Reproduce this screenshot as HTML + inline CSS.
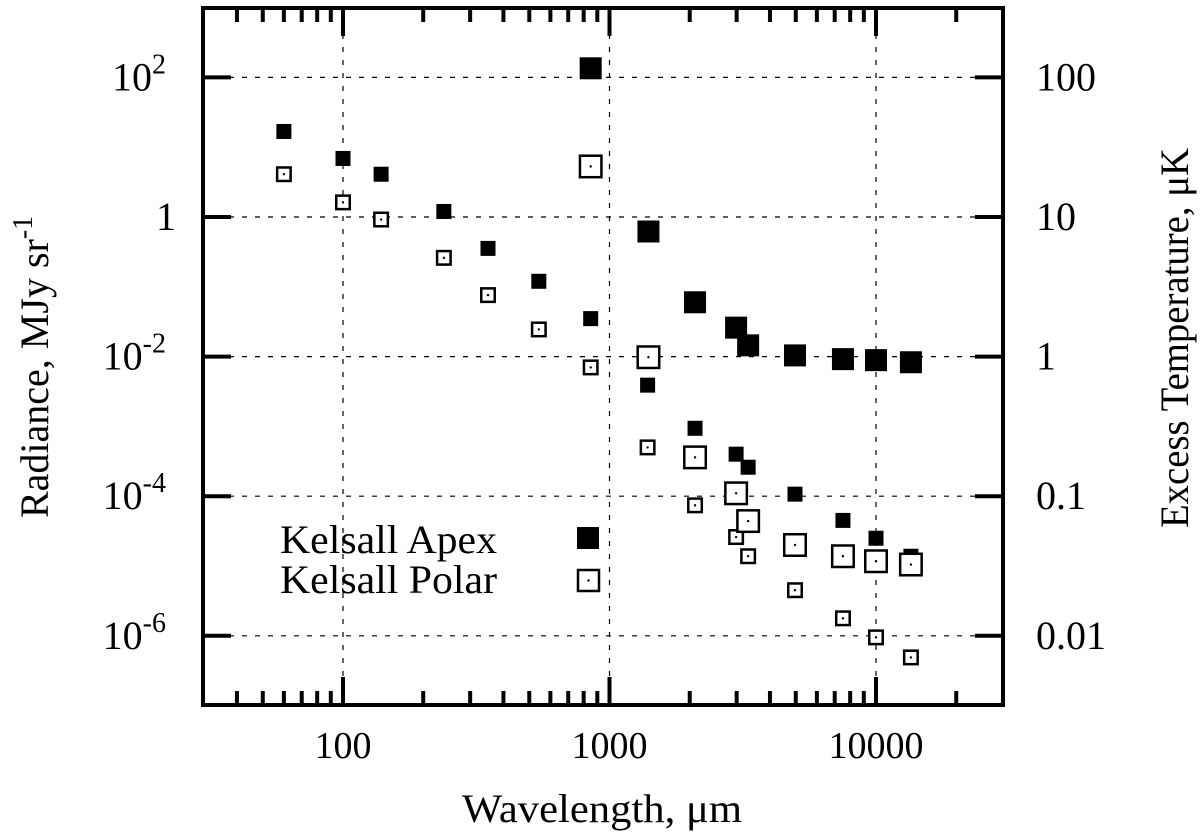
<!DOCTYPE html>
<html><head><meta charset="utf-8">
<style>
html,body{margin:0;padding:0;background:#fff;}
svg text{font-family:"Liberation Serif",serif;fill:#000;}
</style></head>
<body>
<svg id="chart" width="1200" height="835" viewBox="0 0 1200 835" xmlns="http://www.w3.org/2000/svg">
<g id="grid"></g>
<g id="ticks"></g>
<g id="marks"></g>
<rect x="203" y="8" width="800" height="697" fill="none" stroke="#000" stroke-width="4"/>
<g id="labels"></g>
<text x="462" y="822" font-size="40" textLength="280" lengthAdjust="spacingAndGlyphs">Wavelength, μm</text>
<text transform="translate(48,518) rotate(-90)" font-size="40">Radiance, MJy sr<tspan font-size="28" dy="-16">-1</tspan></text>
<text transform="translate(1188,528) rotate(-90)" font-size="40" textLength="380" lengthAdjust="spacingAndGlyphs">Excess Temperature, μK</text>
<g>
<text x="280" y="553" font-size="40" textLength="217" lengthAdjust="spacingAndGlyphs">Kelsall Apex</text>
<rect x="577" y="527" width="22" height="22" fill="#000"/>
<text x="280" y="593" font-size="40" textLength="217" lengthAdjust="spacingAndGlyphs">Kelsall Polar</text>
<rect x="578" y="570" width="21" height="21" fill="#fff" stroke="#000" stroke-width="2.5"/>
<circle cx="588.5" cy="580.5" r="1.2" fill="#000"/>
</g>
</svg>
<script>
const apexSmallX=[60,100,139,239,350,543,850,1390,2094,2986,3313,4966,7516,10000,13520];
const apexSmallY=[16.8,6.9,4.1,1.2,0.355,0.12,0.035,0.0039,9.4e-4,4.0e-4,2.6e-4,1.07e-4,4.5e-5,2.5e-5,1.38e-5];
const polarSmallX=[60,100,139,239,350,543,850,1390,2094,2986,3313,4966,7516,10000,13520];
const polarSmallY=[4.1,1.62,0.92,0.26,0.076,0.0245,0.007,5.0e-4,7.4e-5,2.6e-5,1.38e-5,4.5e-6,1.78e-6,9.5e-7,4.9e-7];
const apexLargeX=[850,1400,2094,2986,3313,4966,7516,10000,13520];
const apexLargeY=[135,0.62,0.06,0.026,0.0145,0.0104,0.0092,0.0089,0.0083];
const polarLargeX=[850,1400,2094,2986,3313,4966,7516,10000,13520];
const polarLargeY=[5.3,0.0098,3.6e-4,1.1e-4,4.4e-5,2.0e-5,1.38e-5,1.17e-5,1.05e-5];
const xTickVals=[100,1000,10000];
const xTickLabels=["100","1000","10000"];
const yTickExp=[2,0,-2,-4,-6];
const y2TickLabels=["100","10","1","0.1","0.01"];

const NS="http://www.w3.org/2000/svg";
const X0=343, XD=266.5, Y0=217, YD=69.8;
function sx(v){return X0+(Math.log10(v)-2)*XD;}
function sy(v){return Y0-Math.log10(v)*YD;}
function mk(tag,attrs,parent){const e=document.createElementNS(NS,tag);for(const k in attrs)e.setAttribute(k,attrs[k]);parent.appendChild(e);return e;}
const grid=document.getElementById('grid'),ticks=document.getElementById('ticks'),marks=document.getElementById('marks'),labels=document.getElementById('labels');
const L=203,R=1003,T=8,B=705;
xTickVals.forEach((v,i)=>{
  const x=sx(v);
  const g=mk('line',{x1:x,x2:x,y1:T,y2:B,stroke:'#000','stroke-width':1.2,'stroke-dasharray':'5,8'},grid);
  
  
  const t=mk('text',{x:x,y:758,'font-size':38,'text-anchor':'middle'},labels);
  t.textContent=xTickLabels[i];
  
  
});
for(let d=10;d<=10000;d*=10){
  for(let m=1;m<10;m++){
    const v=d*m; const x=sx(v); if(x<L+2||x>R-2)continue;
    const len=(m===1)?28:14;
    const a=mk('line',{x1:x,x2:x,y1:B,y2:B-len,stroke:'#000','stroke-width':4},ticks);
    
    
    const b=mk('line',{x1:x,x2:x,y1:T,y2:T+len,stroke:'#000','stroke-width':4},ticks);
    
    
  }
}
yTickExp.forEach((e,i)=>{
  const y=sy(Math.pow(10,e));
  const g=mk('line',{x1:L,x2:R,y1:y,y2:y,stroke:'#000','stroke-width':1.2,'stroke-dasharray':'5,8'},grid);
  
  
  const a=mk('line',{x1:L,x2:L+28,y1:y,y2:y,stroke:'#000','stroke-width':4},ticks);
  
  
  const b=mk('line',{x1:R-28,x2:R,y1:y,y2:y,stroke:'#000','stroke-width':4},ticks);
  
  
  const t=mk('text',{x:e===0?176:166,y:y+13,'font-size':40,'text-anchor':'end'},labels);
  
  
  if(e===0){t.textContent='1';}else{t.textContent='10';const s=mk('tspan',{'font-size':28,dy:-17},t);s.textContent=String(e);}
  const t2=mk('text',{x:1036,y:y+13,'font-size':40},labels);
  t2.textContent=y2TickLabels[i];
  
  
});
function draw(xs,ys,size,open,name){
  xs.forEach((v,i)=>{
    const x=sx(v),y=sy(ys[i]);
    let r;
    if(open){
      const s=size-2.5;
      r=mk('rect',{x:x-s/2,y:y-s/2,width:s,height:s,fill:'#fff',stroke:'#000','stroke-width':2.5},marks);
      const c=mk('circle',{cx:x,cy:y,r:1.2,fill:'#000'},marks);
      
      
    }else{
      r=mk('rect',{x:x-size/2,y:y-size/2,width:size,height:size,fill:'#000'},marks);
    }
    
    
  });
}
draw(apexSmallX,apexSmallY,15,false,'apex-small-point');
draw(polarSmallX,polarSmallY,16,true,'polar-small-point');
draw(apexLargeX,apexLargeY,22,false,'apex-large-point');
draw(polarLargeX,polarLargeY,24,true,'polar-large-point');
</script>
</body></html>
